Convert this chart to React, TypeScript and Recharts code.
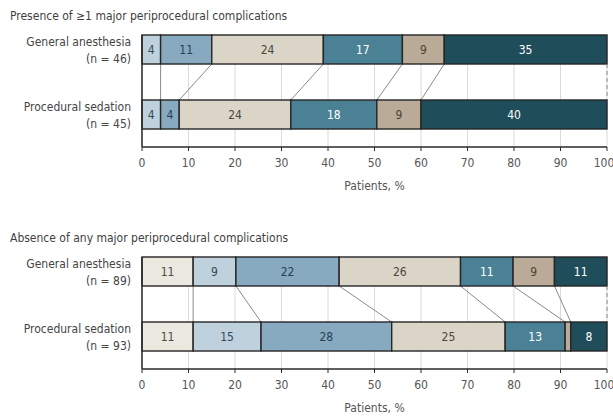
import { BarChart, Bar, XAxis, YAxis, CartesianGrid, LabelList } from 'recharts'

// shared categories and ticks
const groups = ['General anesthesia', 'Procedural sedation']
const xTicks = [0, 10, 20, 30, 40, 50, 60, 70, 80, 90, 100]
const segmentColors = ['#ebe8e0', '#bfd1dc', '#88aac0', '#dbd5c8', '#4b8195', '#b9ab97', '#1f4d5a']
const labelColors = ['#4a4a44', '#34495a', '#263f52', '#4a463c', '#ffffff', '#4d4230', '#ffffff']

// Presence of >=1 major periprocedural complications
const presenceN = [46, 45]
const presenceGA = [0, 4, 11, 24, 17, 9, 35]
const presencePS = [0, 4, 4, 24, 18.5, 9.5, 40]
const presenceGALabels = [null, 4, 11, 24, 17, 9, 35]
const presencePSLabels = [null, 4, 4, 24, 18, 9, 40]

// Absence of any major periprocedural complications
const absenceN = [89, 93]
const absenceGA = [11, 9.2, 22.2, 26.1, 11.3, 8.9, 11.3]
const absencePS = [11, 14.6, 28.1, 24.4, 12.9, 1.2, 7.8]
const absenceGALabels = [11, 9, 22, 26, 11, 9, 11]
const absencePSLabels = [11, 15, 28, 25, 13, null, 8]

const FONT = '"Liberation Sans Narrow", "DejaVu Sans Condensed", "Roboto Condensed", Roboto, sans-serif'
const W = 613
const H = 222
const MARGIN = { top: 35, right: 6, bottom: 29, left: 0 }
const Y_WIDTH = 142
const X_HEIGHT = 46
const PAD_TOP = -18
const BAR_SIZE = 29
const plotBottom = H - MARGIN.bottom - X_HEIGHT
const rowStep = (plotBottom - (MARGIN.top + PAD_TOP)) / 2

const sum = (arr: number[]) => arr.reduce((a, b) => a + b, 0)

// rect for each segment, plus the connector from the upper row to the lower row
function segmentShape(i: number, values: number[][]) {
  return (props: any) => {
    const { x, y, width, height, fill, index } = props
    const v = values[index][i]
    const last = i === values[0].length - 1
    return (
      <g>
        {width > 0 && (
          <rect x={x} y={y} width={width} height={height} fill={fill} stroke="#262626" strokeWidth={1.4} />
        )}
        {index === 0 && v > 0 && (() => {
          const ppu = width / v
          const origin = x - sum(values[0].slice(0, i)) * ppu
          const target = origin + sum(values[1].slice(0, i + 1)) * ppu
          return (
            <line
              x1={x + width}
              y1={y + height}
              x2={target}
              y2={y + rowStep}
              stroke="#8a8a8a"
              strokeWidth={1}
              strokeDasharray={last ? '4 3' : undefined}
            />
          )
        })()}
      </g>
    )
  }
}

function segmentLabel(i: number, labels: (number | null)[][]) {
  return (props: any) => {
    const { x, y, width, height, index } = props
    const text = labels[index][i]
    if (text === null || !width) return null
    return (
      <text
        x={x + width / 2}
        y={y + height / 2 + 4.5}
        textAnchor="middle"
        fill={labelColors[i]}
        fontSize={12}
        fontFamily={FONT}
      >
        {text}
      </text>
    )
  }
}

function groupTick(n: number[]) {
  return (props: any) => {
    const { x, y, payload, index } = props
    return (
      <text x={x} y={y} textAnchor="end" fill="#454545" fontSize={12} fontFamily={FONT}>
        <tspan x={x} dy={-3.3}>{payload.value}</tspan>
        <tspan x={x} dy={16.5}>{`(n = ${n[index]})`}</tspan>
      </text>
    )
  }
}

interface PanelProps {
  title: string
  top: number
  n: number[]
  values: number[][]
  labels: (number | null)[][]
}

function Panel({ title, top, n, values, labels }: PanelProps) {
  const data = groups.map((g, r) => {
    const row: any = { group: g }
    values[r].forEach((v, i) => {
      row[`s${i}`] = v
    })
    return row
  })

  return (
    <div style={{ position: 'absolute', left: 0, top, width: W, height: H }}>
      <div
        style={{
          position: 'absolute',
          left: 10,
          top: 9,
          fontFamily: FONT,
          fontSize: 12,
          lineHeight: '14px',
          color: '#3f3f3f',
          whiteSpace: 'nowrap',
        }}
      >
        {title}
      </div>
      <BarChart width={W} height={H} data={data} layout="vertical" margin={MARGIN} barSize={BAR_SIZE}>
        <CartesianGrid horizontal={false} stroke="#dadada" />
        <XAxis
          type="number"
          domain={[0, 100]}
          ticks={xTicks}
          height={X_HEIGHT}
          tickSize={4}
          tickMargin={7}
          axisLine={{ stroke: '#2a2a2a', strokeWidth: 1.5 }}
          tickLine={{ stroke: '#2a2a2a' }}
          tick={{ fill: '#555', fontSize: 12, fontFamily: FONT }}
          label={{
            value: 'Patients, %',
            position: 'insideBottom',
            offset: 3,
            fill: '#555',
            fontSize: 12,
            fontFamily: FONT,
          }}
        />
        <YAxis
          type="category"
          dataKey="group"
          width={Y_WIDTH}
          padding={{ top: PAD_TOP, bottom: 0 }}
          tickLine={false}
          tickSize={0}
          tickMargin={11}
          axisLine={{ stroke: '#2a2a2a', strokeWidth: 1.5 }}
          tick={groupTick(n)}
        />
        {segmentColors.map((color, i) => (
          <Bar
            key={i}
            dataKey={`s${i}`}
            stackId="a"
            fill={color}
            isAnimationActive={false}
            shape={segmentShape(i, values)}
          >
            <LabelList content={segmentLabel(i, labels)} />
          </Bar>
        ))}
      </BarChart>
    </div>
  )
}

export default function App() {
  return (
    <div style={{ position: 'absolute', left: 0, top: 0, width: W, height: 416, background: '#fff' }}>
      <Panel
        title="Presence of ≥1 major periprocedural complications"
        top={0}
        n={presenceN}
        values={[presenceGA, presencePS]}
        labels={[presenceGALabels, presencePSLabels]}
      />
      <Panel
        title="Absence of any major periprocedural complications"
        top={222}
        n={absenceN}
        values={[absenceGA, absencePS]}
        labels={[absenceGALabels, absencePSLabels]}
      />
    </div>
  )
}
